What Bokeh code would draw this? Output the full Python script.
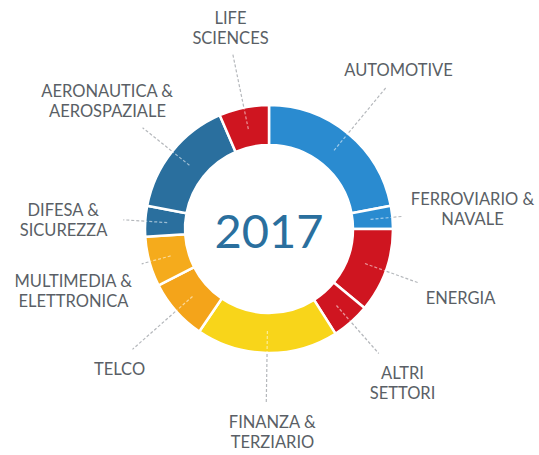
import numpy as np
from bokeh.plotting import figure
from bokeh.models import Range1d, ColumnDataSource
from bokeh.core.properties import value
from bokeh.embed import file_html
from bokeh.resources import INLINE

# ---------------- data ----------------
sectors = ["AUTOMOTIVE", "FERROVIARIO & NAVALE", "ENERGIA", "ALTRI SETTORI",
           "FINANZA & TERZIARIO", "TELCO", "MULTIMEDIA & ELETTRONICA",
           "DIFESA & SICUREZZA", "AERONAUTICA & AEROSPAZIALE", "LIFE SCIENCES"]
label_lines = [["AUTOMOTIVE"], ["FERROVIARIO &", "NAVALE"], ["ENERGIA"],
               ["ALTRI", "SETTORI"], ["FINANZA &", "TERZIARIO"], ["TELCO"],
               ["MULTIMEDIA &", "ELETTRONICA"], ["DIFESA &", "SICUREZZA"],
               ["AERONAUTICA &", "AEROSPAZIALE"], ["LIFE", "SCIENCES"]]
shares = [22.0, 3.0, 11.0, 5.0, 18.5, 8.0, 6.5, 4.0, 15.5, 6.5]
year = "2017"

# ---------------- style / layout ----------------
colors = ["#2a8bd0", "#2a8bd0", "#cf1520", "#cf1520", "#f8d51a",
          "#f4a41a", "#f5ab1c", "#2a6f9e", "#2a6f9e", "#cf1520"]
W, H = 539, 455
IMG_H = 455
def Y(yimg):
    return IMG_H - yimg

cx, cy = 268.5, Y(228.5)
r_in, r_out = 84, 124
lead_r0 = 102
lead_r1 = [184, 133, 159, 166, 174, 182, 132, 146, 162, 178]
label_pos = [(398, 69), (472, 208), (460, 297), (402, 382), (272, 431),
             (119, 368), (73, 290), (63, 219), (107, 100), (230, 27)]
line_gap = 20
font = "Lato"
text_color = "#5a5f66"

p = figure(width=W, height=H, output_backend="svg", toolbar_location=None,
           x_range=Range1d(0, W), y_range=Range1d(IMG_H - H, IMG_H),
           min_border=0, outline_line_color=None)
p.axis.visible = False
p.grid.visible = False
p.background_fill_color = "white"

vals = np.array(shares)
frac = vals / vals.sum()
ends_cum = np.cumsum(frac)
starts_cum = ends_cum - frac
start_ang = np.pi / 2 - starts_cum * 2 * np.pi
end_ang = np.pi / 2 - ends_cum * 2 * np.pi
mid_ang = (start_ang + end_ang) / 2

src = ColumnDataSource(dict(start=start_ang, end=end_ang, color=colors, name=sectors))
p.annular_wedge(x=cx, y=cy, inner_radius=r_in, outer_radius=r_out,
                start_angle="start", end_angle="end", direction="clock",
                fill_color="color", line_color="white", line_width=2.5, source=src)

# leader lines
xs_in, ys_in, xs_out, ys_out = [], [], [], []
for a, r1 in zip(mid_ang, lead_r1):
    c, s = np.cos(a), np.sin(a)
    xs_in.append([cx + lead_r0 * c, cx + (r_out - 1) * c])
    ys_in.append([cy + lead_r0 * s, cy + (r_out - 1) * s])
    xs_out.append([cx + (r_out + 1) * c, cx + r1 * c])
    ys_out.append([cy + (r_out + 1) * s, cy + r1 * s])
p.multi_line(xs_in, ys_in, line_color="white", line_alpha=0.55, line_width=1.2,
             line_dash="3 2")
p.multi_line(xs_out, ys_out, line_color="#b5b8bc", line_width=1.2, line_dash="3 2")

# labels
tx, ty, tt = [], [], []
for lines, (lx, ly) in zip(label_lines, label_pos):
    n = len(lines)
    for i, t in enumerate(lines):
        tx.append(lx)
        ty.append(Y(ly + (i - (n - 1) / 2) * line_gap))
        tt.append(t)
p.text(x=tx, y=ty, text=tt, text_align="center", text_baseline="middle",
       text_font=value(font), text_font_size="16.5px", text_color=text_color)

p.text(x=[cx], y=[Y(231)], text=[year], text_align="center", text_baseline="middle",
       text_font=value(font), text_font_size="47px", text_color="#2a6f9e")

open("out.html", "w").write(file_html(p, INLINE))
